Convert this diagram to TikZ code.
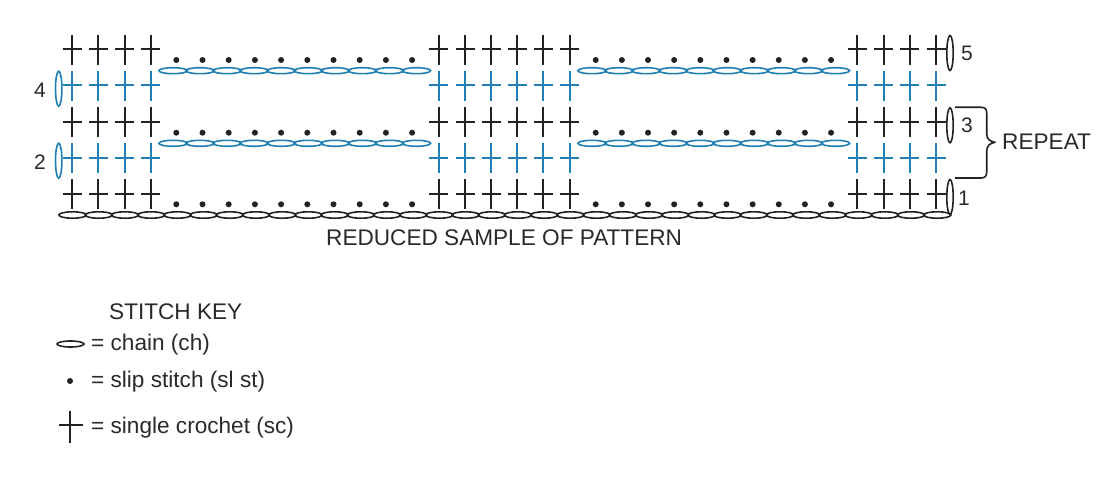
\documentclass[tikz,border=0pt]{standalone}
\usepackage{fontspec}
\setmainfont{Liberation Sans}
\definecolor{ink}{HTML}{222222}
\definecolor{stitchblue}{HTML}{1F7FB2}
\definecolor{txt}{HTML}{2A2A2A}
\tikzset{
  crossline/.style={line width=2pt,color=#1},
  chainoval/.style={line width=1.6pt,color=#1},
  slipdot/.style={fill=ink,draw=none},
  lbl/.style={inner sep=0pt,anchor=base west,text=txt,font=\fontsize{22.6}{22.6}\selectfont},
  num/.style={inner sep=0pt,anchor=base,text=txt,font=\fontsize{21}{21}\selectfont}
}
\newcommand{\crossrow}[3]{% y-top, colour, list of x
  \foreach \cx in {#3}{
    \draw[crossline=#2] (\cx,#1) -- (\cx,#1+30);
    \draw[crossline=#2] (\cx-9.5,#1+14.5) -- (\cx+9.5,#1+14.5);
  }}
\newcommand{\allrows}[2]{% y-top, colour
  \crossrow{#1}{#2}{72.2,98.4,124.6,150.8,438.7,465,491,517.2,543.4,569.7,857.3,883.5,909.7,936}}
\newcommand{\hchain}[6]{% x0,y,w,n,ry,colour
  \foreach \ci in {1,...,#4}{
    \draw[chainoval=#6] ({#1+(\ci-0.5)*#3},#2) ellipse [x radius=#3/2+0.6,y radius=#5];
  }}
\newcommand{\dotrow}[1]{%
  \foreach \ci in {0,...,9}{
    \fill[slipdot] ({176.3+\ci*26.2},#1) circle (3);
    \fill[slipdot] ({595.7+\ci*26.15},#1) circle (3);
  }}
\begin{document}
\begin{tikzpicture}[x=1pt,y=-1pt]
\useasboundingbox (0,0) rectangle (1115,476);
\fill[white] (0,0) rectangle (1115,476);
% single crochet rows
\allrows{35}{ink}
\allrows{71}{stitchblue}
\allrows{107}{ink}
\allrows{143}{stitchblue}
\allrows{179}{ink}
% slip stitches
\dotrow{60}
\dotrow{132.7}
\dotrow{204.3}
% chains
\hchain{159.5}{70.7}{27.05}{10}{3}{stitchblue}
\hchain{578.5}{70.7}{27.05}{10}{3}{stitchblue}
\hchain{159.5}{143.3}{27.05}{10}{3}{stitchblue}
\hchain{578.5}{143.3}{27.05}{10}{3}{stitchblue}
\hchain{59.5}{215}{26.2}{34}{3.2}{ink}
% turning chains
\draw[chainoval=stitchblue] (58.7,88.7) ellipse [x radius=3.2,y radius=17.5];
\draw[chainoval=stitchblue] (58.7,160.7) ellipse [x radius=3.2,y radius=17.5];
\draw[chainoval=ink] (950,53) ellipse [x radius=3.2,y radius=17.5];
\draw[chainoval=ink] (950,125.3) ellipse [x radius=3.2,y radius=17.5];
\draw[chainoval=ink] (950,197) ellipse [x radius=3.2,y radius=17.5];
% row numbers
\node[num] (n4) at (40,97.5) {4};
\node[num] (n2) at (40,169.5) {2};
\node[num] (n5) at (967,60.5) {5};
\node[num] (n3) at (967,132.5) {3};
\node[num] (n1) at (964,205.5) {1};
% brace
\draw[line width=1.6pt,color=ink,line join=round]
  (955,107.3) -- (981,107.3) .. controls (985,107.3) and (986.7,109) .. (986.7,113)
  -- (986.7,134) .. controls (986.7,139) and (990,141.5) .. (995,142.3)
  .. controls (990,143) and (986.7,146) .. (986.7,151)
  -- (986.7,172) .. controls (986.7,176) and (985,178) .. (981,178) -- (955,178);
\node[lbl] (rep) at (1002,149.8) {REPEAT};
\node[lbl] (cap) at (326,245.8) {REDUCED SAMPLE OF PATTERN};
% key
\node[lbl] (key) at (109,319) {STITCH KEY};
\draw[chainoval=ink] (70.5,344) ellipse [x radius=13.5,y radius=3];
\node[lbl] (kch) at (91,350) {= chain (ch)};
\fill[slipdot] (70,381) circle (3);
\node[lbl] (ksl) at (91,387) {= slip stitch (sl st)};
\draw[crossline=ink] (70.3,410.7) -- (70.3,443.3);
\draw[crossline=ink] (59,425) -- (82.7,425);
\node[lbl] (ksc) at (91,433) {= single crochet (sc)};
\end{tikzpicture}
\end{document}
